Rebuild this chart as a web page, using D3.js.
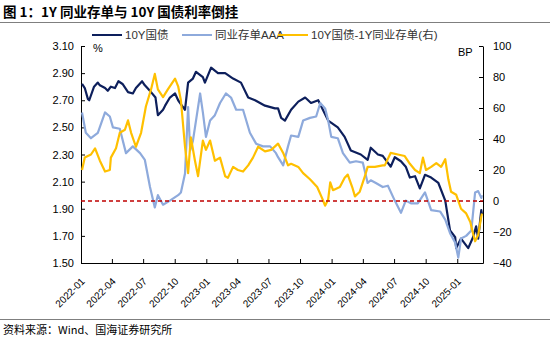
<!DOCTYPE html>
<html>
<head>
<meta charset="utf-8">
<script src="https://cdn.jsdelivr.net/npm/d3@7"></script>
<style>
  body { margin: 0; background: #fff; }
  text { font-family: "Liberation Sans", Arial, "Noto Sans CJK SC", sans-serif; }
</style>
</head>
<body>
<div id="chart"></div>
<script>
// ---- data ----
var series10y = [
  ["2022-01-04",2.82],["2022-01-12",2.79],["2022-01-21",2.71],["2022-01-25",2.70],["2022-02-08",2.80],
  ["2022-02-19",2.83],["2022-02-25",2.81],["2022-03-12",2.79],["2022-03-20",2.77],["2022-03-29",2.80],
  ["2022-04-10",2.79],["2022-04-20",2.84],["2022-05-02",2.82],["2022-05-18",2.76],["2022-06-01",2.75],
  ["2022-06-10",2.79],["2022-06-28",2.84],["2022-07-06",2.81],["2022-07-24",2.76],["2022-08-06",2.72],
  ["2022-08-13",2.59],["2022-08-28",2.63],["2022-09-03",2.66],["2022-09-17",2.72],["2022-10-02",2.75],
  ["2022-10-11",2.70],["2022-10-25",2.65],["2022-10-31",2.63],["2022-11-09",2.83],["2022-11-23",2.86],
  ["2022-12-02",2.91],["2022-12-22",2.87],["2022-12-28",2.83],["2023-01-15",2.94],["2023-02-04",2.90],
  ["2023-02-25",2.90],["2023-03-20",2.86],["2023-04-12",2.83],["2023-05-03",2.72],["2023-05-23",2.70],
  ["2023-06-21",2.66],["2023-07-20",2.64],["2023-07-29",2.64],["2023-08-07",2.57],["2023-08-18",2.55],
  ["2023-09-05",2.63],["2023-09-26",2.69],["2023-10-16",2.72],["2023-11-02",2.68],["2023-11-23",2.70],
  ["2023-12-22",2.55],["2024-01-19",2.50],["2024-02-08",2.43],["2024-02-26",2.33],["2024-03-26",2.30],
  ["2024-04-15",2.26],["2024-04-24",2.35],["2024-05-15",2.30],["2024-05-29",2.29],["2024-06-04",2.27],
  ["2024-06-21",2.21],["2024-07-03",2.28],["2024-07-21",2.25],["2024-08-04",2.21],["2024-08-16",2.13],
  ["2024-08-31",2.14],["2024-09-14",2.05],["2024-09-29",2.15],["2024-10-17",2.13],["2024-11-07",2.09],
  ["2024-11-27",1.96],["2024-12-11",1.74],["2024-12-26",1.69],["2024-12-29",1.61],["2025-01-12",1.68],
  ["2025-02-02",1.61],["2025-02-16",1.69],["2025-02-25",1.77],["2025-03-03",1.68],["2025-03-12",1.89],
  ["2025-03-14",1.86]
];
var seriesNcd = [
  ["2022-01-04",2.61],["2022-01-15",2.46],["2022-01-30",2.42],["2022-02-19",2.46],["2022-03-12",2.61],
  ["2022-03-26",2.58],["2022-04-04",2.50],["2022-04-24",2.49],["2022-05-12",2.31],["2022-06-01",2.36],
  ["2022-06-22",2.31],["2022-07-06",2.26],["2022-07-21",2.06],["2022-08-04",1.91],["2022-08-13",2.00],
  ["2022-08-28",1.93],["2022-09-17",1.96],["2022-10-11",2.00],["2022-10-19",2.02],["2022-10-31",2.16],
  ["2022-11-09",2.65],["2022-11-15",2.33],["2022-11-23",2.40],["2022-12-02",2.55],["2022-12-14",2.75],
  ["2022-12-22",2.61],["2022-12-31",2.43],["2023-01-12",2.55],["2023-01-26",2.59],["2023-02-10",2.68],
  ["2023-02-27",2.75],["2023-03-14",2.72],["2023-03-29",2.63],["2023-04-18",2.63],["2023-05-08",2.46],
  ["2023-05-26",2.38],["2023-06-15",2.36],["2023-07-06",2.36],["2023-07-23",2.31],["2023-07-29",2.28],
  ["2023-08-13",2.22],["2023-08-27",2.36],["2023-09-05",2.44],["2023-09-26",2.43],["2023-10-10",2.55],
  ["2023-10-30",2.57],["2023-11-17",2.58],["2023-11-29",2.68],["2023-12-13",2.64],["2023-12-22",2.55],
  ["2023-12-31",2.43],["2024-01-19",2.42],["2024-02-03",2.31],["2024-02-23",2.24],["2024-03-12",2.25],
  ["2024-04-01",2.24],["2024-04-15",2.09],["2024-04-24",2.11],["2024-05-09",2.09],["2024-05-29",2.06],
  ["2024-06-13",2.07],["2024-07-03",1.96],["2024-07-21",1.87],["2024-08-04",1.96],["2024-08-19",1.94],
  ["2024-09-08",1.94],["2024-09-29",2.02],["2024-10-17",1.89],["2024-11-12",1.88],["2024-11-27",1.82],
  ["2024-12-11",1.72],["2024-12-26",1.65],["2025-01-04",1.54],["2025-01-12",1.68],["2025-01-27",1.70],
  ["2025-02-11",1.74],["2025-02-22",2.02],["2025-03-03",2.03],["2025-03-12",1.98],["2025-03-14",2.00]
];
var seriesSpread = [
  ["2022-01-04",20],["2022-01-12",28],["2022-01-30",30],["2022-02-11",34],["2022-02-25",26],
  ["2022-03-12",19],["2022-03-26",20],["2022-03-29",28],["2022-04-13",34],["2022-04-24",44],
  ["2022-05-09",46],["2022-05-18",52],["2022-05-27",44],["2022-06-10",35],["2022-06-25",44],
  ["2022-07-09",61],["2022-07-24",72],["2022-08-04",82],["2022-08-13",72],["2022-08-28",67],
  ["2022-09-11",72],["2022-10-02",79],["2022-10-11",74],["2022-10-19",65],["2022-10-31",35],
  ["2022-11-09",18],["2022-11-17",41],["2022-11-29",26],["2022-12-08",16],["2022-12-22",39],
  ["2022-12-31",33],["2023-01-12",39],["2023-01-26",26],["2023-02-10",28],["2023-02-25",16],
  ["2023-03-05",15],["2023-03-20",22],["2023-04-03",20],["2023-04-18",19],["2023-05-03",23],
  ["2023-05-17",28],["2023-06-01",35],["2023-06-21",32],["2023-07-09",33],["2023-07-29",37],
  ["2023-08-13",31],["2023-08-27",23],["2023-09-05",24],["2023-09-26",22],["2023-10-10",18],
  ["2023-10-30",14],["2023-11-20",9],["2023-12-04",2],["2023-12-13",-3],["2023-12-22",1],
  ["2023-12-28",12],["2024-01-05",7],["2024-01-25",9],["2024-02-08",15],["2024-02-17",17],
  ["2024-03-01",9],["2024-03-09",3],["2024-03-23",6],["2024-04-07",16],["2024-04-15",22],
  ["2024-05-06",22],["2024-05-29",23],["2024-06-04",23],["2024-06-21",31],["2024-07-12",30],
  ["2024-08-01",29],["2024-08-16",24],["2024-08-31",20],["2024-09-14",18],["2024-09-23",28],
  ["2024-10-02",20],["2024-10-17",22],["2024-11-01",24.5],["2024-11-15",22],["2024-11-27",27],
  ["2024-12-06",14],["2024-12-14",6],["2024-12-29",4],["2025-01-12",-5],["2025-01-27",-8],
  ["2025-02-08",-13.5],["2025-02-16",-21],["2025-02-22",-26],["2025-03-03",-22],["2025-03-12",-10],
  ["2025-03-14",-8]
];
var leftTicks = [1.50, 1.70, 1.90, 2.10, 2.30, 2.50, 2.70, 2.90, 3.10];
var rightTicks = [-40, -20, 0, 20, 40, 60, 80, 100];
var dateTicks = ["2022-01","2022-04","2022-07","2022-10","2023-01","2023-04","2023-07",
                 "2023-10","2024-01","2024-04","2024-07","2024-10","2025-01"];
var legendNames = ["10Y国债", "同业存单AAA", "10Y国债-1Y同业存单(右)"];
var colors = ["#0d1f5c", "#8eaadc", "#ffc000"];

// ---- canvas ----
var svgWidth = 550, svgHeight = 339;
var margin = {top: 46, right: 67, bottom: 76, left: 81};
var width = svgWidth - margin.left - margin.right;   // 402
var height = svgHeight - margin.top - margin.bottom; // 217

var svg = d3.select("#chart").append("svg")
  .attr("width", svgWidth).attr("height", svgHeight);

var parse = d3.timeParse("%Y-%m-%d");
var parseMonth = d3.timeParse("%Y-%m");

// title & rules
svg.append("text").attr("x", 3).attr("y", 17)
  .attr("font-size", 13.5).attr("font-weight", "bold").attr("fill", "#000")
  .style("font-family", "'Noto Sans CJK SC', sans-serif")
  .text("图 1：1Y 同业存单与 10Y 国债利率倒挂");
svg.append("line").attr("x1", 0).attr("x2", svgWidth).attr("y1", 22.5).attr("y2", 22.5)
  .attr("stroke", "#7f7f7f").attr("stroke-width", 1);
svg.append("line").attr("x1", 0).attr("x2", svgWidth).attr("y1", 319.5).attr("y2", 319.5)
  .attr("stroke", "#7f7f7f").attr("stroke-width", 1);
svg.append("text").attr("x", 3).attr("y", 334)
  .attr("font-size", 11).attr("fill", "#000")
  .style("font-family", "'Noto Sans CJK SC', sans-serif")
  .text("资料来源：Wind、国海证券研究所");

var g = svg.append("g").attr("transform", `translate(${margin.left},${margin.top})`);

// scales
var x = d3.scaleTime()
  .domain([parse("2022-01-01"), parse("2025-03-17")])
  .range([0, width]);
var yL = d3.scaleLinear().domain([1.5, 3.1]).range([height, 0]);
var yR = d3.scaleLinear().domain([-40, 100]).range([height, 0]);

// axes
var leftAxis = d3.axisLeft(yL).tickValues(leftTicks).tickFormat(d3.format(".2f"))
  .tickSizeInner(-4).tickSizeOuter(0).tickPadding(7);
var rightAxis = d3.axisRight(yR).tickValues(rightTicks).tickFormat(d3.format("d"))
  .tickSizeInner(-4).tickSizeOuter(0).tickPadding(10);
var bottomAxis = d3.axisBottom(x).tickValues(dateTicks.map(parseMonth))
  .tickFormat(d3.timeFormat("%Y-%m")).tickSizeInner(-4).tickSizeOuter(0);

var gl = g.append("g").call(leftAxis);
var gr = g.append("g").attr("transform", `translate(${width},0)`).call(rightAxis);
var gb = g.append("g").attr("transform", `translate(0,${height})`).call(bottomAxis);

[gl, gr, gb].forEach(a => {
  a.select(".domain").attr("stroke", "#000");
  a.selectAll(".tick line").attr("stroke", "#000");
  a.selectAll("text").attr("font-size", 11).attr("fill", "#000")
    .style("font-family", "'Liberation Sans', Arial, sans-serif");
});
gb.selectAll(".tick text")
  .attr("font-size", 10)
  .attr("text-anchor", "end")
  .attr("y", 0).attr("dy", 0)
  .attr("transform", "translate(4,19) rotate(-45)");

g.append("text").attr("x", 12).attr("y", 6).attr("font-size", 11).text("%");
g.append("text").attr("x", 377).attr("y", 10).attr("font-size", 11).text("BP");

// lines
function lineFor(scale) {
  return d3.line().x(d => x(parse(d[0]))).y(d => scale(d[1])).curve(d3.curveLinear);
}
[[series10y, yL], [seriesNcd, yL], [seriesSpread, yR]].forEach((s, i) => {
  g.append("path").datum(s[0])
    .attr("fill", "none").attr("stroke", colors[i]).attr("stroke-width", 2.2)
    .attr("stroke-linejoin", "round")
    .attr("d", lineFor(s[1]));
});

// zero line on right axis
g.append("line").attr("x1", 0).attr("x2", width)
  .attr("y1", yR(0)).attr("y2", yR(0))
  .attr("stroke", "#c00000").attr("stroke-width", 1.3).attr("stroke-dasharray", "4,3");

// legend
var legendX = [92, 182, 278];
var leg = svg.append("g").attr("transform", "translate(0,35)");
legendNames.forEach((name, i) => {
  leg.append("line").attr("x1", legendX[i]).attr("x2", legendX[i] + 30)
    .attr("y1", 0).attr("y2", 0).attr("stroke", colors[i]).attr("stroke-width", 2);
  leg.append("text").attr("x", legendX[i] + 33).attr("y", 4)
    .attr("font-size", 11.5).attr("fill", "#333")
    .text(name);
});
</script>
</body>
</html>
